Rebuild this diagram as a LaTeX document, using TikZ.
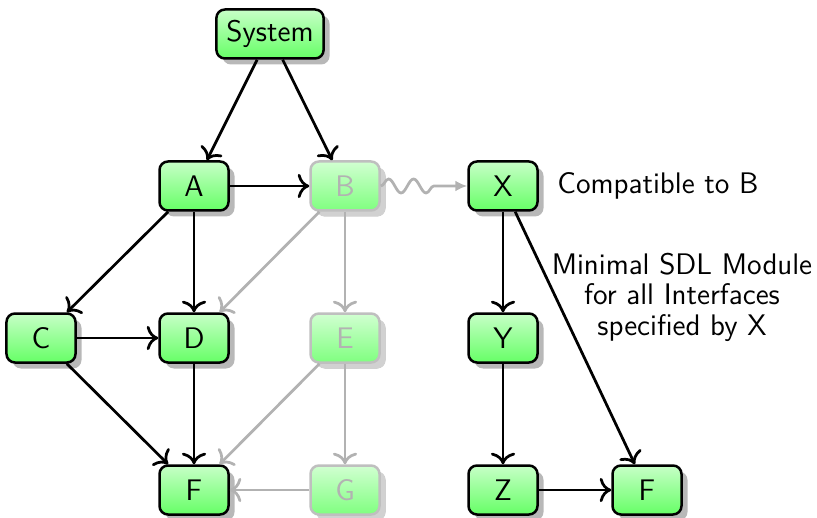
\documentclass[tikz,border=0pt]{standalone}
\usetikzlibrary{shadows,decorations.pathmorphing,arrows.meta}
\begin{document}
\begin{tikzpicture}[x=0.4pt,y=-0.4pt,
  font=\sffamily\fontsize{11.9}{12.2}\selectfont,
  module/.style={draw=black, line width=1pt, rounded corners=3.4pt,
    top color=green!22, bottom color=green!60,
    minimum width=27.6pt, minimum height=19.6pt, inner xsep=4pt,
    drop shadow={shadow xshift=2.4pt, shadow yshift=-2.4pt, fill=black!28, opacity=1}},
  faded/.style={module, draw=black!25, text=black!30,
    top color=green!18, bottom color=green!50,
    drop shadow={shadow xshift=2.4pt, shadow yshift=-2.4pt, fill=black!18, opacity=1}},
  edge/.style={line width=1.1pt, -{To[scale=1.15]}},
  fadededge/.style={edge, draw=black!30},
]
\useasboundingbox (0,0) rectangle (817,518);

% modules
\node[module] (sys) at (270,34) {System};
\node[module] (A)   at (194,186) {A};
\node[faded]  (B)   at (345,186) {B};
\node[module] (X)   at (503,186) {X};
\node[module] (C)   at (41,338)  {C};
\node[module] (D)   at (194,338) {D};
\node[faded]  (E)   at (345,338) {E};
\node[module] (Y)   at (503,338) {Y};
\node[module] (F)   at (194,490) {F};
\node[faded]  (G)   at (345,490) {G};
\node[module] (Z)   at (503,490) {Z};
\node[module] (F2)  at (647,490) {F};

% dependencies
\draw[edge] (sys) -- (A);
\draw[edge] (sys) -- (B);
\draw[edge] (A) -- (B);
\draw[edge] (A) -- (C);
\draw[edge] (A) -- (D);
\draw[edge] (C) -- (D);
\draw[edge] (C) -- (F);
\draw[edge] (D) -- (F);
\draw[fadededge] (B) -- (D);
\draw[fadededge] (B) -- (E);
\draw[fadededge] (E) -- (F);
\draw[fadededge] (E) -- (G);
\draw[fadededge] (G) -- (F);
\draw[line width=1.1pt, draw=black!30, -{Latex[length=4.8pt,width=4.4pt]},
  decorate, decoration={snake, amplitude=2.8pt, segment length=10pt, post length=9pt}]
  (B) -- (X);
\draw[edge] (X) -- (Y);
\draw[edge] (Y) -- (Z);
\draw[edge] (Z) -- (F2);
\draw[edge] (X) -- (F2);

% annotations
\node (compat) at (658,186) {Compatible to B};
\node[align=center] (minimal) at (682,297) {Minimal SDL Module\\for all Interfaces\\specified by X};
\end{tikzpicture}
\end{document}
